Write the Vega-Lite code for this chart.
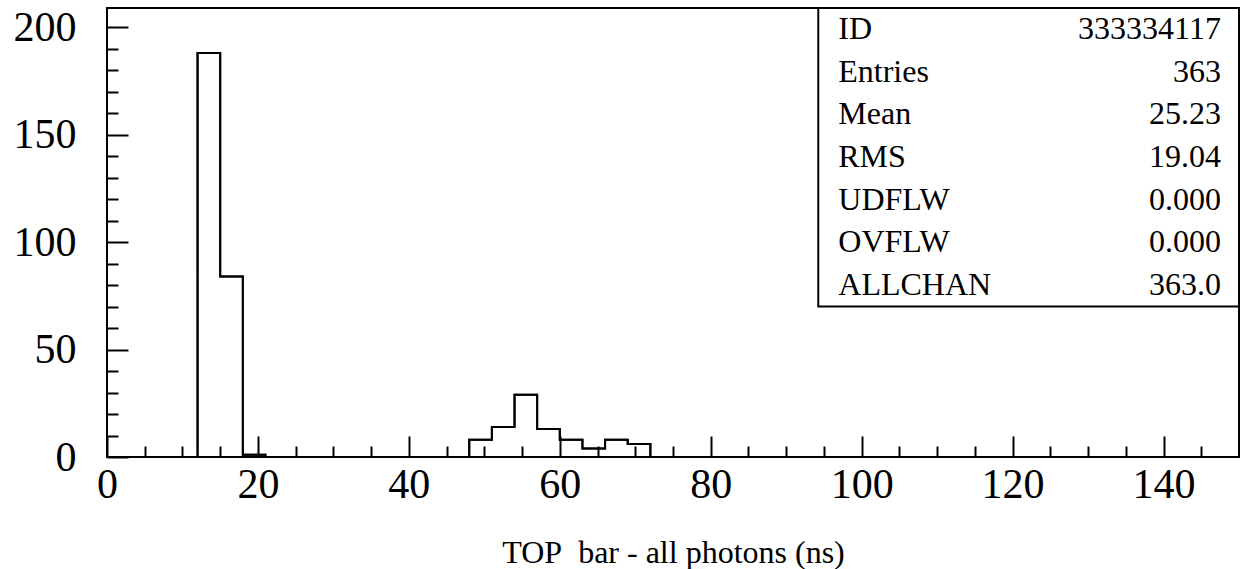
{
  "$schema": "https://vega.github.io/schema/vega-lite/v6.json",
  "autosize": {"type": "none"},
  "width": 1132,
  "height": 449,
  "padding": {"left": 107, "top": 8, "right": 1, "bottom": 112},
  "background": "white",
  "config": {
    "view": {"stroke": "black", "strokeWidth": 2},
    "font": "Liberation Serif",
    "axis": {"grid": false, "domain": false, "tickColor": "black", "tickWidth": 2, "labelColor": "black", "labelFont": "Liberation Serif", "titleFont": "Liberation Serif", "labelFlush": false, "labelOverlap": false}
  },
  "datasets": {
    "hist": [
      {"start": 0, "count": 0}, {"start": 3, "count": 0}, {"start": 6, "count": 0}, {"start": 9, "count": 0},
      {"start": 12, "count": 188}, {"start": 15, "count": 84}, {"start": 18, "count": 1}, {"start": 21, "count": 0},
      {"start": 24, "count": 0}, {"start": 27, "count": 0}, {"start": 30, "count": 0}, {"start": 33, "count": 0},
      {"start": 36, "count": 0}, {"start": 39, "count": 0}, {"start": 42, "count": 0}, {"start": 45, "count": 0},
      {"start": 48, "count": 8}, {"start": 51, "count": 14}, {"start": 54, "count": 29}, {"start": 57, "count": 13},
      {"start": 60, "count": 8}, {"start": 63, "count": 4}, {"start": 66, "count": 8}, {"start": 69, "count": 6},
      {"start": 72, "count": 0}, {"start": 75, "count": 0}, {"start": 78, "count": 0}, {"start": 81, "count": 0},
      {"start": 84, "count": 0}, {"start": 87, "count": 0}, {"start": 90, "count": 0}, {"start": 93, "count": 0},
      {"start": 96, "count": 0}, {"start": 99, "count": 0}, {"start": 102, "count": 0}, {"start": 105, "count": 0},
      {"start": 108, "count": 0}, {"start": 111, "count": 0}, {"start": 114, "count": 0}, {"start": 117, "count": 0},
      {"start": 120, "count": 0}, {"start": 123, "count": 0}, {"start": 126, "count": 0}, {"start": 129, "count": 0},
      {"start": 132, "count": 0}, {"start": 135, "count": 0}, {"start": 138, "count": 0}, {"start": 141, "count": 0},
      {"start": 144, "count": 0}, {"start": 147, "count": 0}
    ],
    "stats": [
      {"name": "ID", "value": "333334117"},
      {"name": "Entries", "value": "363"},
      {"name": "Mean", "value": "25.23"},
      {"name": "RMS", "value": "19.04"},
      {"name": "UDFLW", "value": "0.000"},
      {"name": "OVFLW", "value": "0.000"},
      {"name": "ALLCHAN", "value": "363.0"}
    ]
  },
  "resolve": {"scale": {"x": "independent", "y": "independent"}, "axis": {"x": "independent", "y": "independent"}},
  "layer": [
    {
      "data": {"name": "hist"},
      "mark": {"type": "line", "interpolate": "step-after", "color": "black", "strokeWidth": 2},
      "encoding": {
        "x": {"field": "start", "type": "quantitative", "scale": {"domain": [0, 150], "nice": false, "zero": false},
          "axis": {"orient": "bottom", "values": [0, 20, 40, 60, 80, 100, 120, 140], "tickSize": -21, "labelFontSize": 42, "labelBaseline": "alphabetic", "labelPadding": 61,
            "title": "TOP\u00a0 bar - all photons (ns)", "titleFontSize": 32, "titleFontWeight": "normal", "titleColor": "black", "titleBaseline": "alphabetic", "titleY": 105}},
        "y": {"field": "count", "type": "quantitative", "scale": {"domain": [0, 209], "nice": false},
          "axis": {"orient": "left", "values": [0, 50, 100, 150, 200], "tickSize": -21, "labelFontSize": 42, "labelBaseline": "middle", "labelPadding": 52, "title": null}}
      }
    },
    {
      "data": {"name": "hist"},
      "mark": {"type": "line", "interpolate": "step-after", "color": "black", "strokeWidth": 2},
      "encoding": {
        "x": {"field": "start", "type": "quantitative", "scale": {"domain": [0, 150], "nice": false, "zero": false},
          "axis": {"orient": "bottom", "values": [5, 10, 15, 25, 30, 35, 45, 50, 55, 65, 70, 75, 85, 90, 95, 105, 110, 115, 125, 130, 135, 145], "tickSize": -11, "labels": false, "title": null}},
        "y": {"field": "count", "type": "quantitative", "scale": {"domain": [0, 209], "nice": false},
          "axis": {"orient": "left", "values": [10, 20, 30, 40, 60, 70, 80, 90, 110, 120, 130, 140, 160, 170, 180, 190], "tickSize": -11, "labels": false, "title": null}}
      }
    },
    {
      "data": {"values": [{}]},
      "mark": {"type": "rect", "fill": "white", "stroke": "black", "strokeWidth": 2},
      "encoding": {
        "x": {"datum": 94.25, "type": "quantitative", "scale": {"domain": [0, 150], "nice": false, "zero": false}, "axis": null},
        "x2": {"datum": 150},
        "y": {"datum": 209, "type": "quantitative", "scale": {"domain": [0, 209], "nice": false}, "axis": null},
        "y2": {"datum": 70}
      }
    },
    {
      "data": {"name": "stats"},
      "mark": {"type": "text", "align": "left", "baseline": "middle", "fontSize": 32, "font": "Liberation Serif", "color": "black"},
      "encoding": {
        "x": {"datum": 96.9, "type": "quantitative", "scale": {"domain": [0, 150], "nice": false, "zero": false}, "axis": null},
        "y": {"field": "name", "type": "nominal", "sort": null, "scale": {"type": "point", "domain": ["ID", "Entries", "Mean", "RMS", "UDFLW", "OVFLW", "ALLCHAN"], "range": [21, 277], "padding": 0}, "axis": null},
        "text": {"field": "name"}
      }
    },
    {
      "data": {"name": "stats"},
      "mark": {"type": "text", "align": "right", "baseline": "middle", "fontSize": 32, "font": "Liberation Serif", "color": "black"},
      "encoding": {
        "x": {"datum": 147.6, "type": "quantitative", "scale": {"domain": [0, 150], "nice": false, "zero": false}, "axis": null},
        "y": {"field": "name", "type": "nominal", "sort": null, "scale": {"type": "point", "domain": ["ID", "Entries", "Mean", "RMS", "UDFLW", "OVFLW", "ALLCHAN"], "range": [21, 277], "padding": 0}, "axis": null},
        "text": {"field": "value"}
      }
    }
  ]
}
